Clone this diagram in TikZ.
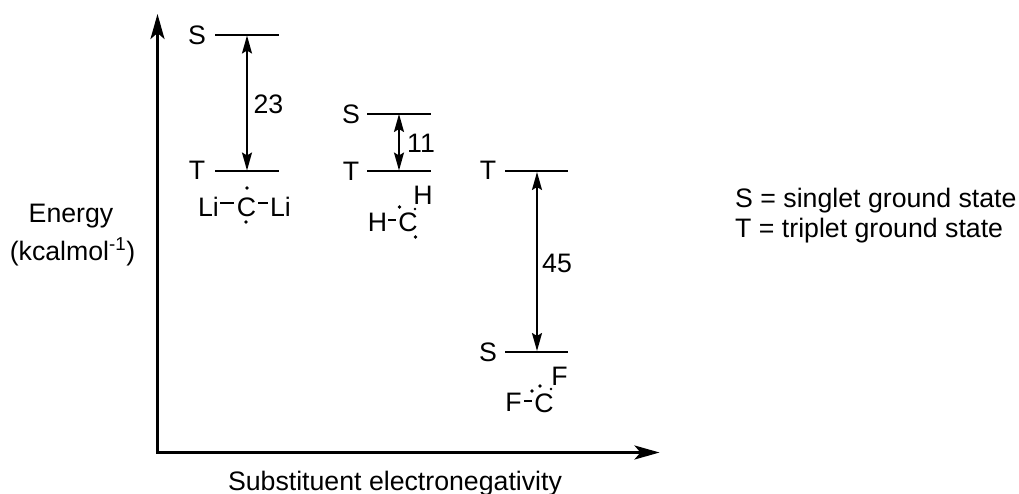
\documentclass[tikz,border=0pt]{standalone}
\usepackage{fontspec}
\setmainfont{Liberation Sans}
\usetikzlibrary{arrows.meta}
\tikzset{
  x=1pt,y=-1pt,
  txt/.style={inner sep=0pt,font=\fontsize{26.7}{30}\selectfont},
  axisline/.style={line width=3pt,line join=miter,{Stealth[length=25pt,width=14pt,inset=6pt]}-{Stealth[length=25pt,width=14pt,inset=6pt]}},
  level/.style={line width=2pt},
  gap/.style={line width=2pt,{Stealth[length=18pt,width=10pt,inset=3pt]}-{Stealth[length=18pt,width=10pt,inset=3pt]}},
  bond/.style={line width=2pt},
  lp/.style={circle,fill=black,inner sep=0pt,minimum size=3.6pt}
}
\begin{document}
\begin{tikzpicture}
\useasboundingbox (0,0) rectangle (1019,494);
% axes
\coordinate (O) at (157.5,452.5);
\coordinate (Ytip) at (157.5,14);
\coordinate (Xtip) at (659.5,452.5);
\draw[axisline] (Ytip) -- (O) -- (Xtip);
% levels
\coordinate (s1l) at (215,35); \coordinate (s1r) at (279,35); \coordinate (s1m) at (247,35.5);
\coordinate (t1l) at (215,171); \coordinate (t1r) at (279,171); \coordinate (t1m) at (247,170.5);
\coordinate (s2l) at (367,114); \coordinate (s2r) at (431,114); \coordinate (s2m) at (399,114);
\coordinate (t2l) at (367,171); \coordinate (t2r) at (431,171); \coordinate (t2m) at (399,170.5);
\coordinate (t3l) at (505,171); \coordinate (t3r) at (568,171); \coordinate (t3m) at (537,172);
\coordinate (s3l) at (505,352); \coordinate (s3r) at (568,352); \coordinate (s3m) at (537,351);
\foreach \a/\b in {s1l/s1r,t1l/t1r,s2l/s2r,t2l/t2r,t3l/t3r,s3l/s3r} \draw[level] (\a) -- (\b);
\draw[gap] (s1m) -- (t1m);
\draw[gap] (s2m) -- (t2m);
\draw[gap] (t3m) -- (s3m);
% level labels
\node[txt] (ls1) at (197,35) {S};
\node[txt] (lt1) at (197,170) {T};
\node[txt] (ls2) at (351,114) {S};
\node[txt] (lt2) at (351,171) {T};
\node[txt] (lt3) at (488,170) {T};
\node[txt] (ls3) at (488,352) {S};
\node[txt] (n23) at (268.5,104) {23};
\node[txt] (n11) at (421,143) {11};
\node[txt] (n45) at (557,263) {45};
% Li-C-Li
\node[txt] (li1) at (208.5,207) {Li};
\node[txt] (c1) at (246.5,207) {C};
\node[txt] (li2) at (280.5,207) {Li};
\coordinate (b1a) at (220,203); \coordinate (b1b) at (234,203);
\coordinate (b2a) at (258,203); \coordinate (b2b) at (268,203);
\draw[bond] (b1a) -- (b1b);
\draw[bond] (b2a) -- (b2b);
\node[lp] (d1) at (247,188) {};
\node[lp] (d2) at (246,222) {};
% H-C-H
\node[txt] (h1) at (377.5,222) {H};
\node[txt] (c2) at (408,222) {C};
\node[txt] (h2) at (423,195) {H};
\coordinate (b3a) at (388,220); \coordinate (b3b) at (396,220);
\draw[bond] (b3a) -- (b3b);
\node[lp] (d3) at (399.5,207) {};
\node[lp,minimum size=2.6pt] (d4) at (415,209) {};
\node[lp] (d5) at (415.5,237) {};
% F-C-F
\node[txt] (f1) at (513.5,402) {F};
\node[txt] (c3) at (544,403) {C};
\node[txt] (f2) at (559.5,376) {F};
\coordinate (b4a) at (524,401); \coordinate (b4b) at (532,401);
\draw[bond] (b4a) -- (b4b);
\node[lp] (d6) at (532,391) {};
\node[lp] (d7) at (540,386) {};
\node[lp,minimum size=2.8pt] (d8) at (551,389) {};
% axis labels
\node[txt,anchor=base] (en) at (71,223) {Energy};
\node[txt,anchor=base] (un) at (72.5,260) {(kcalmol\textsuperscript{-1})};
\node[txt,anchor=base] (sub) at (395,490) {Substituent electronegativity};
% legend
\node[txt,anchor=base west] (k1) at (735,208) {S = singlet ground state};
\node[txt,anchor=base west] (k2) at (735,237) {T = triplet ground state};
\end{tikzpicture}
\end{document}
